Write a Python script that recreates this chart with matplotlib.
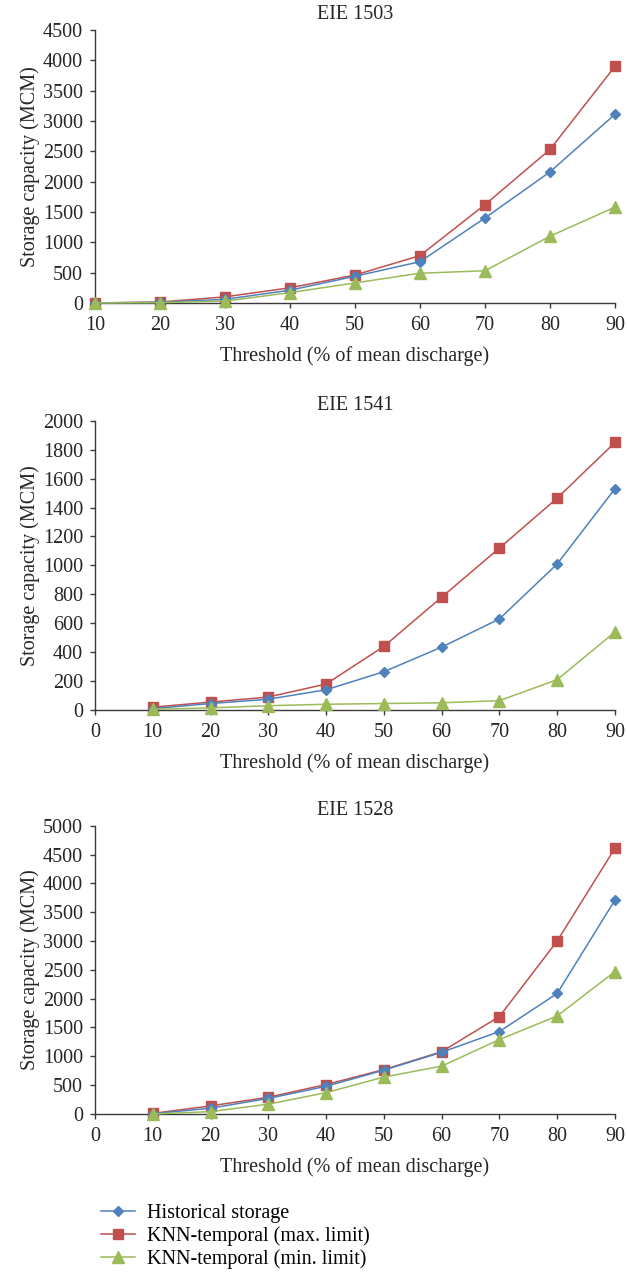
import matplotlib
matplotlib.use("Agg")
import matplotlib.pyplot as plt

plt.rcParams['font.family'] = ['Liberation Serif', 'DejaVu Serif']

thresholds = [10, 20, 30, 40, 50, 60, 70, 80, 90]

# EIE 1503
hist_1503 = [0, 10, 60, 210, 440, 680, 1400, 2160, 3110]
kmax_1503 = [0, 15, 100, 250, 460, 780, 1620, 2530, 3900]
kmin_1503 = [0, 5, 30, 170, 330, 490, 530, 1100, 1580]

# EIE 1541
hist_1541 = [10, 45, 75, 140, 265, 435, 630, 1010, 1530]
kmax_1541 = [20, 55, 90, 180, 440, 780, 1120, 1465, 1850]
kmin_1541 = [5, 15, 30, 40, 45, 50, 65, 210, 540]

# EIE 1528
hist_1528 = [5, 100, 270, 480, 760, 1070, 1430, 2090, 3710]
kmax_1528 = [10, 140, 290, 510, 770, 1080, 1690, 3000, 4610]
kmin_1528 = [0, 40, 170, 370, 640, 830, 1290, 1700, 2470]

labels = ['Historical storage', 'KNN-temporal (max. limit)', 'KNN-temporal (min. limit)']
c_blue = '#4F81BD'
c_red = '#C0504D'
c_green = '#9BBB59'

panels = [
    ('EIE 1503', hist_1503, kmax_1503, kmin_1503, (10, 90), 4500, 500, [0.1515, 0.7624, 0.8293, 0.2141]),
    ('EIE 1541', hist_1541, kmax_1541, kmin_1541, (0, 90), 2000, 200, [0.1515, 0.4431, 0.8293, 0.2269]),
    ('EIE 1528', hist_1528, kmax_1528, kmin_1528, (0, 90), 5000, 500, [0.1515, 0.1263, 0.8293, 0.2261]),
]

fig = plt.figure(figsize=(6.27, 12.75), dpi=100)
fs = 14.5
txt = '#262626'
axcol = '#3a3a3a'

for title, h, kmx, kmn, xl, ymax, ystep, rect in panels:
    ax = fig.add_axes(rect)
    l1, = ax.plot(thresholds, h, color=c_blue, lw=1.1, marker='D', ms=5.5, label=labels[0], clip_on=False, zorder=3)
    l2, = ax.plot(thresholds, kmx, color=c_red, lw=1.1, marker='s', ms=7.5, label=labels[1], clip_on=False, zorder=2)
    l3, = ax.plot(thresholds, kmn, color=c_green, lw=1.1, marker='^', ms=8, label=labels[2], clip_on=False, zorder=4)
    ax.set_xlim(*xl)
    ax.set_ylim(0, ymax)
    ax.set_xticks(range(xl[0], 91, 10))
    ax.set_yticks(range(0, ymax + 1, ystep))
    ax.spines['top'].set_visible(False)
    ax.spines['right'].set_visible(False)
    for s in ('left', 'bottom'):
        ax.spines[s].set_color(axcol)
        ax.spines[s].set_linewidth(1.0)
    ax.tick_params(axis='both', labelsize=fs, labelcolor=txt, color=axcol, length=3.5, width=1.0, direction='out')
    ax.tick_params(axis='x', pad=6)
    ax.tick_params(axis='y', pad=5)
    ax.set_title(title, fontsize=fs, color=txt, pad=8)
    ax.set_xlabel('Threshold (% of mean discharge)', fontsize=fs, color=txt, labelpad=8)
    ax.set_ylabel('Storage capacity (MCM)', fontsize=fs, color=txt, labelpad=2)

fig.legend(handles=[l1, l2, l3], labels=labels, loc='upper left', bbox_to_anchor=(0.148, 0.062),
           frameon=False, fontsize=fs, handlelength=1.7, handletextpad=0.6, labelspacing=0.15,
           borderaxespad=0)

fig.savefig('out.png', dpi=100)
